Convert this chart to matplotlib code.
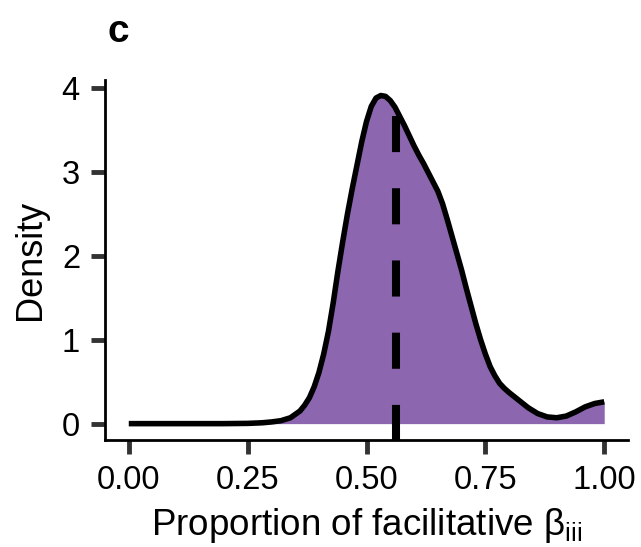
import matplotlib
matplotlib.use("Agg")
import matplotlib.pyplot as plt

plt.rcParams['font.family'] = ['Liberation Sans', 'DejaVu Sans']
plt.rcParams['mathtext.fontset'] = 'custom'
plt.rcParams['mathtext.rm'] = 'Liberation Sans'
plt.rcParams['mathtext.it'] = 'Liberation Sans'
plt.rcParams['lines.scale_dashes'] = False

# density estimate
prop = [0.00, 0.05, 0.10, 0.15, 0.20, 0.25, 0.28, 0.30, 0.32, 0.34, 0.36, 0.37,
        0.38, 0.39, 0.40, 0.41, 0.42, 0.43, 0.44, 0.45, 0.46, 0.47, 0.48, 0.49,
        0.50, 0.51, 0.52, 0.53, 0.54, 0.55, 0.56, 0.57, 0.58, 0.59, 0.60, 0.61,
        0.62, 0.63, 0.64, 0.65, 0.66, 0.67, 0.68, 0.69, 0.70, 0.71, 0.72, 0.73,
        0.74, 0.75, 0.76, 0.77, 0.78, 0.79, 0.80, 0.82, 0.84, 0.86, 0.88, 0.90,
        0.92, 0.94, 0.96, 0.98, 1.00]
density = [0.0, 0.0, 0.0, 0.0, 0.0, 0.003, 0.01, 0.02, 0.035, 0.07, 0.15, 0.22,
           0.31, 0.44, 0.61, 0.83, 1.10, 1.44, 1.82, 2.17, 2.50, 2.80, 3.08, 3.36,
           3.60, 3.78, 3.88, 3.91, 3.90, 3.85, 3.77, 3.66, 3.55, 3.43, 3.31, 3.20,
           3.10, 2.99, 2.88, 2.77, 2.62, 2.43, 2.23, 2.03, 1.83, 1.61, 1.40, 1.19,
           1.00, 0.83, 0.68, 0.57, 0.48, 0.42, 0.37, 0.28, 0.19, 0.12, 0.08, 0.07,
           0.09, 0.14, 0.20, 0.24, 0.26]
mean_prop = 0.561
mean_top = 3.67

xticks = [0.00, 0.25, 0.50, 0.75, 1.00]
xticklabels = ["0.00", "0.25", "0.50", "0.75", "1.00"]
yticks = [0, 1, 2, 3, 4]

fig = plt.figure(figsize=(6.41, 5.47), dpi=100)
ax = fig.add_axes([105/641, 1 - 440/547, 523/641, 360/547])

ax.fill_between(prop, 0, density, color='#8D66B0', linewidth=0)
ax.plot(prop, density, color='black', lw=4.0, solid_capstyle='butt',
        solid_joinstyle='round')
ylo = -0.195
ax.plot([mean_prop, mean_prop], [mean_top, ylo], color='black', lw=5.8,
        dashes=(26, 26), dash_capstyle='butt')

ax.set_xlim(-0.05, 1.05)
ax.set_ylim(ylo, 4.095)
ax.set_xticks(xticks)
ax.set_xticklabels(xticklabels)
ax.set_yticks(yticks)

for s in ['top', 'right']:
    ax.spines[s].set_visible(False)
for s in ['left', 'bottom']:
    ax.spines[s].set_linewidth(2.0)
    ax.spines[s].set_color('black')

ax.tick_params(axis='both', length=10, width=3.5, color='#333333',
               labelsize=23.5, labelcolor='black', pad=8)

ax.set_xlabel(r"Proportion of facilitative $\mathrm{\beta}_{\mathrm{iii}}$", fontsize=26.5, labelpad=7)
ax.set_ylabel("Density", fontsize=26, labelpad=10)

fig.text(118/641, 1 - 32/547, "c", fontsize=28, fontweight='bold', ha='center', va='center')

fig.savefig("out.png", dpi=100)
